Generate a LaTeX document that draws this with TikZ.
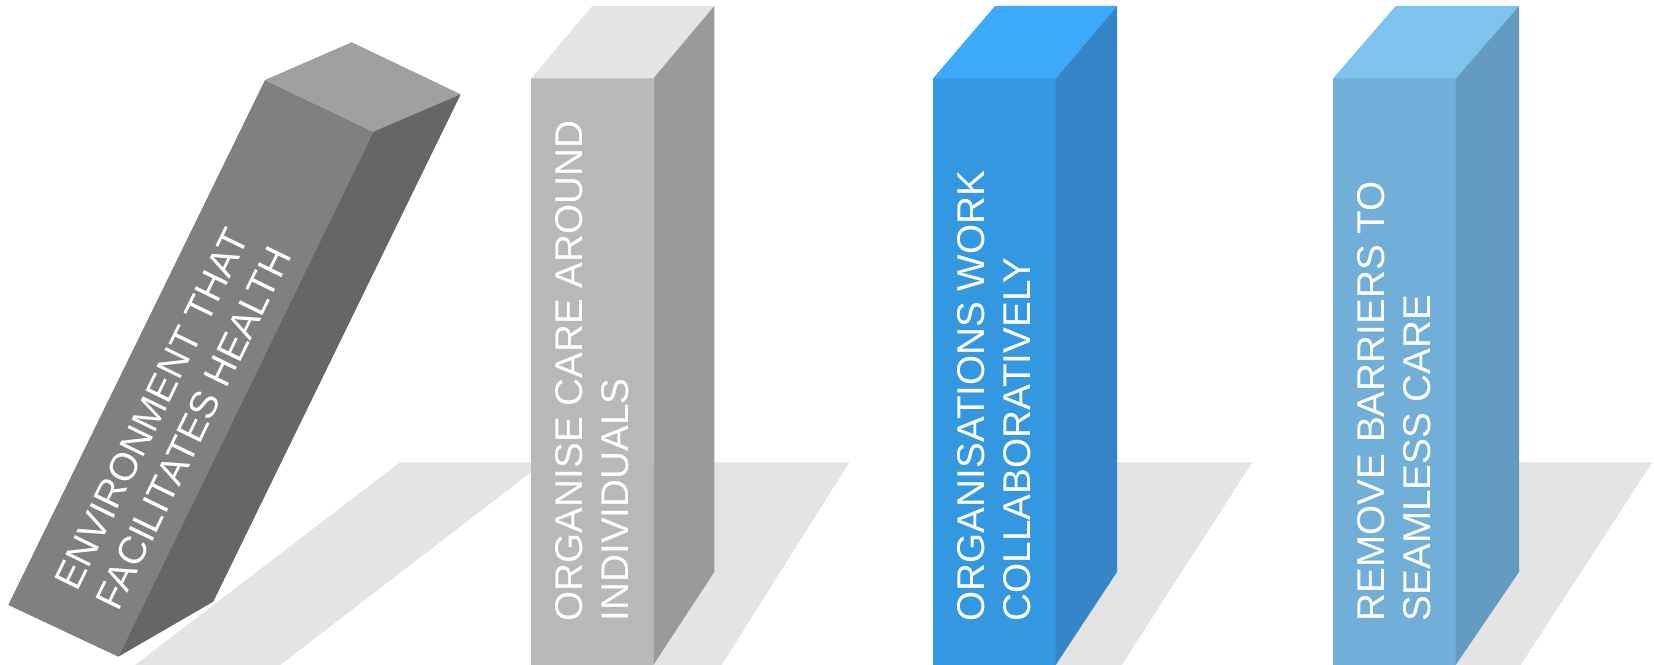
\documentclass[tikz,border=0pt]{standalone}
\usepackage{fontspec}
\setmainfont{Liberation Sans}

\definecolor{floorgray}{HTML}{E4E4E4}
\definecolor{darkfront}{HTML}{808080}
\definecolor{darkside}{HTML}{666666}
\definecolor{darktop}{HTML}{A0A0A0}
\definecolor{greyfront}{HTML}{B8B8B8}
\definecolor{greyside}{HTML}{9A9A9A}
\definecolor{greytop}{HTML}{E4E4E4}
\definecolor{bluefront}{HTML}{3498E0}
\definecolor{blueside}{HTML}{3585C8}
\definecolor{bluetop}{HTML}{3BAAFA}
\definecolor{paleblfront}{HTML}{72AFD8}
\definecolor{paleblside}{HTML}{649BC0}
\definecolor{palebltop}{HTML}{7EC3EE}

\begin{document}
\begin{tikzpicture}[
  x=0.01cm, y=-0.01cm,
  floorshadow/.style={fill=floorgray},
  pillartext/.style={text=white, align=left, inner sep=0pt, anchor=north west,
    font=\fontsize{11}{12.95}\selectfont}
]
\useasboundingbox (0,0) rectangle (1654,665);

% Shadows on the floor
\fill[floorshadow] (135,665) -- (400,462.3) -- (544,462.3) -- (280.2,665) -- cycle;
\fill[floorshadow] (653,462.3) -- (849.3,462.3) -- (721.7,665) -- (653,665) -- cycle;
\fill[floorshadow] (1055,462.3) -- (1252.3,462.3) -- (1121.7,665) -- (1055,665) -- cycle;
\fill[floorshadow] (1455,462.3) -- (1652.3,462.3) -- (1520.7,665) -- (1455,665) -- cycle;

% Tilted pillar
\fill[darkfront] (265,80) -- (373.3,131.7) -- (118.3,656.7) -- (8.3,605) -- cycle;
\fill[darktop] (265,80) -- (351.7,42.3) -- (460.7,94.3) -- (373.3,131.7) -- cycle;
\fill[darkside] (373.3,131.7) -- (460.7,94.3) -- (213.3,601.7) -- (118.3,656.7) -- cycle;
\node[pillartext, rotate=64] (envtext) at (52,581) {ENVIRONMENT THAT\\FACILITATES HEALTH};

% Grey pillar
\fill[greyfront] (531,78.5) rectangle (653.3,665);
\fill[greytop] (531,78.5) -- (592.3,6) -- (714.3,6) -- (653.3,78.5) -- cycle;
\fill[greyside] (653.3,78.5) -- (714.3,6) -- (714.3,572) -- (653.3,665) -- cycle;
\node[pillartext, rotate=90] (caretext) at (555,622) {ORGANISE CARE AROUND\\INDIVIDUALS};

% Blue pillar
\fill[bluefront] (933,78.5) rectangle (1055.7,665);
\fill[bluetop] (933,78.5) -- (995,6) -- (1117,6) -- (1055.7,78.5) -- cycle;
\fill[blueside] (1055.7,78.5) -- (1117,6) -- (1117,572) -- (1055.7,665) -- cycle;
\node[pillartext, rotate=90] (orgtext) at (957,622) {ORGANISATIONS WORK\\COLLABORATIVELY};

% Pale blue pillar
\fill[paleblfront] (1333,78.5) rectangle (1455.7,665);
\fill[palebltop] (1333,78.5) -- (1395.7,6) -- (1519,6) -- (1455.7,78.5) -- cycle;
\fill[paleblside] (1455.7,78.5) -- (1519,6) -- (1519,572) -- (1455.7,665) -- cycle;
\node[pillartext, rotate=90] (barrtext) at (1357,622) {REMOVE BARRIERS TO\\SEAMLESS CARE};

\end{tikzpicture}
\end{document}
